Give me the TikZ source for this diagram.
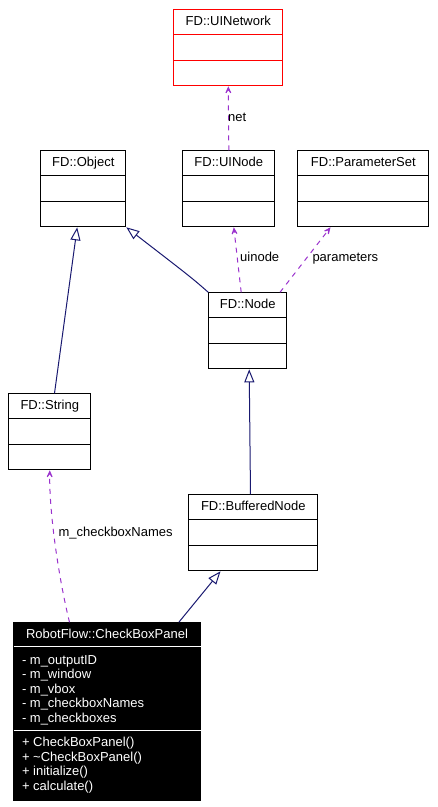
\documentclass[tikz,border=0pt]{standalone}
\usepackage{fontspec}
\setmainfont{Liberation Sans}
\usetikzlibrary{arrows.meta,calc}
\definecolor{edgeblue}{HTML}{191970}
\definecolor{usepurple}{HTML}{9A32CD}
\newcommand{\umlclass}[6]{%
  \node[classbox, draw=#6, minimum width=#4pt, minimum height=76pt] (#1) at (#2,#3) {};
  \node[ctitle] (#1-t) at ($(#1.north)+(0,16)$) {#5};
  \draw[#6, line width=1pt] ($(#1.north west)+(0,25)$) -- ($(#1.north east)+(0,25)$);
  \draw[#6, line width=1pt] ($(#1.north west)+(0,51)$) -- ($(#1.north east)+(0,51)$);
}
\begin{document}
\begin{tikzpicture}[x=1pt,y=-1pt,
  font=\fontsize{13}{14.6}\selectfont,
  classbox/.style={line width=1pt, inner sep=0pt, anchor=north west, fill=white},
  ctitle/.style={anchor=base, inner sep=0pt},
  inherit/.style={draw=edgeblue, line width=1pt, -{Triangle[open, length=13pt, width=10pt]}},
  uses/.style={draw=usepurple, line width=1pt, dash pattern=on 5pt off 5pt, -{Stealth[length=11pt, width=10pt, inset=7pt]}},
  elabel/.style={anchor=base west, inner sep=0pt, text=black},
  wtext/.style={anchor=base west, inner sep=0pt, text=white},
]
\useasboundingbox (0,0) rectangle (438,807);

\umlclass{uinet}{173.3}{9.3}{109}{FD::UINetwork}{red}
\umlclass{obj}{40.3}{150.3}{85}{FD::Object}{black}
\umlclass{uinode}{182.3}{150.3}{92}{FD::UINode}{black}
\umlclass{pset}{297.3}{150.3}{131}{FD::ParameterSet}{black}
\umlclass{nd}{208.3}{292.3}{78}{FD::Node}{black}
\umlclass{str}{8.3}{393.3}{82}{FD::String}{black}
\umlclass{bn}{188.3}{494.3}{129}{FD::BufferedNode}{black}

% CheckBoxPanel
\node[classbox, draw=black, fill=black, minimum width=187pt, minimum height=177.4pt] (cbp) at (13,622.3) {};
\node[ctitle, text=white] (cbp-t) at ($(cbp.north)+(0,16)$) {RobotFlow::CheckBoxPanel};
\draw[white, line width=1pt] ($(cbp.north west)+(0.5,23.7)$) -- ($(cbp.north east)+(-0.5,23.7)$);
\draw[white, line width=1pt] ($(cbp.north west)+(0.5,108.4)$) -- ($(cbp.north east)+(-0.5,108.4)$);
\node[wtext] (a1) at (21.8,664) {- m\_outputID};
\node[wtext] (a2) at (21.8,678.5) {- m\_window};
\node[wtext] (a3) at (21.8,693) {- m\_vbox};
\node[wtext] (a4) at (21.8,707.5) {- m\_checkboxNames};
\node[wtext] (a5) at (21.8,722) {- m\_checkboxes};
\node[wtext] (m1) at (21.8,746.5) {+ CheckBoxPanel()};
\node[wtext] (m2) at (21.8,761) {+ \textasciitilde CheckBoxPanel()};
\node[wtext] (m3) at (21.8,775.5) {+ initialize()};
\node[wtext] (m4) at (21.8,790) {+ calculate()};

% usage edges
\draw[uses] (uinode.north) -- (uinet.south);
\node[elabel] (lnet) at (228,121.7) {net};
\draw[uses] ([xshift=-6.6pt]nd.north) -- ([xshift=5pt]uinode.south);
\node[elabel] (luinode) at (240,261.7) {uinode};
\draw[uses] ([xshift=-7.3pt]nd.north east) -- ([xshift=-32.8pt]pset.south);
\node[elabel] (lparam) at (312.3,261.7) {parameters};
\draw[uses] ([xshift=-37.5pt]cbp.north) .. controls (58,575) and (49,510) .. (str.south);
\node[elabel] (lcbn) at (58.3,536) {m\_checkboxNames};

% inheritance edges
\draw[inherit] (nd.north west) .. controls (192,278) .. (obj.south east);
\draw[inherit] ([xshift=4.7pt]str.north) -- ([xshift=-6.1pt]obj.south);
\draw[inherit] ([xshift=-2.8pt]bn.north) -- ([xshift=1.4pt]nd.south);
\draw[inherit] ([xshift=71.8pt]cbp.north) -- ([xshift=-32.8pt]bn.south);
\end{tikzpicture}
\end{document}
